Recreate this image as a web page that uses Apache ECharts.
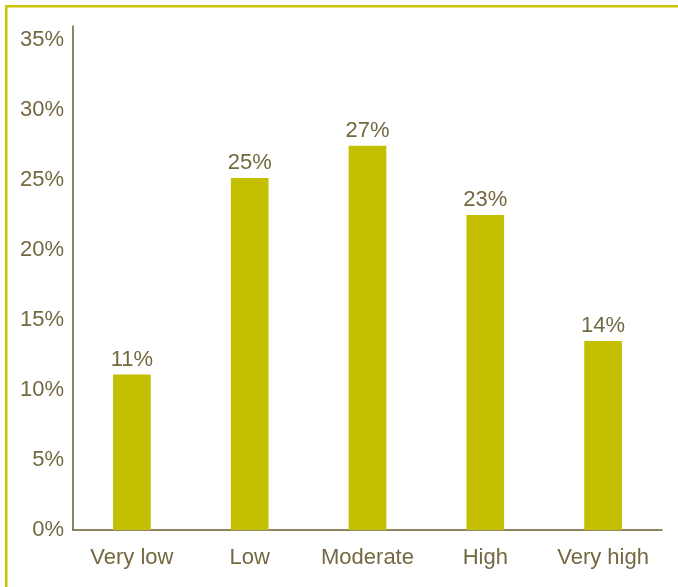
<!DOCTYPE html>
<html>
<head>
<meta charset="utf-8">
<script src="https://cdn.jsdelivr.net/npm/echarts@6/dist/echarts.min.js"></script>
<style>
html,body{margin:0;padding:0;background:#fff;}
#chart{width:678px;height:587px;}
</style>
</head>
<body>
<div id="chart"></div>
<script>
var categories = ['Very low', 'Low', 'Moderate', 'High', 'Very high'];
var values = [11.1, 25.15, 27.45, 22.5, 13.5];
var yTicks = [0, 5, 10, 15, 20, 25, 30, 35];

var textColor = '#736840';
var axisColor = '#6b5d2e';
var barColor = '#c4bf00';
var borderColor = '#c8c400';
var font = '"Liberation Sans", Arial, Helvetica, sans-serif';

var chart = echarts.init(document.getElementById('chart'));
chart.setOption({
  animation: false,
  backgroundColor: '#fff',
  grid: { left: 73, right: 16, top: 26, bottom: 57, containLabel: false },
  graphic: [
    { type: 'rect', shape: { x: 5, y: 5, width: 673, height: 2.5 }, style: { fill: borderColor } },
    { type: 'rect', shape: { x: 5, y: 5, width: 2.5, height: 582 }, style: { fill: borderColor } }
  ],
  xAxis: {
    type: 'category',
    data: categories,
    axisLine: { lineStyle: { color: axisColor, width: 1.5 } },
    axisTick: { show: false },
    axisLabel: { color: textColor, fontFamily: font, fontSize: 22, margin: 17, interval: 0, hideOverlap: false }
  },
  yAxis: {
    type: 'value',
    min: 0,
    max: 36,
    interval: 5,
    splitLine: { show: false },
    axisLine: { show: true, lineStyle: { color: axisColor, width: 1.5 } },
    axisTick: { show: false },
    axisLabel: {
      color: textColor, fontFamily: font, fontSize: 22, margin: 9,
      showMaxLabel: false,
      formatter: function (v) { return yTicks.indexOf(v) >= 0 ? v + '%' : ''; }
    }
  },
  series: [{
    type: 'bar',
    data: values,
    barWidth: '32%',
    itemStyle: { color: barColor },
    label: {
      show: true,
      position: 'top',
      distance: 4,
      color: textColor,
      fontFamily: font,
      fontSize: 22,
      formatter: function (p) { return Math.round(p.value) + '%'; }
    }
  }]
});
</script>
</body>
</html>
